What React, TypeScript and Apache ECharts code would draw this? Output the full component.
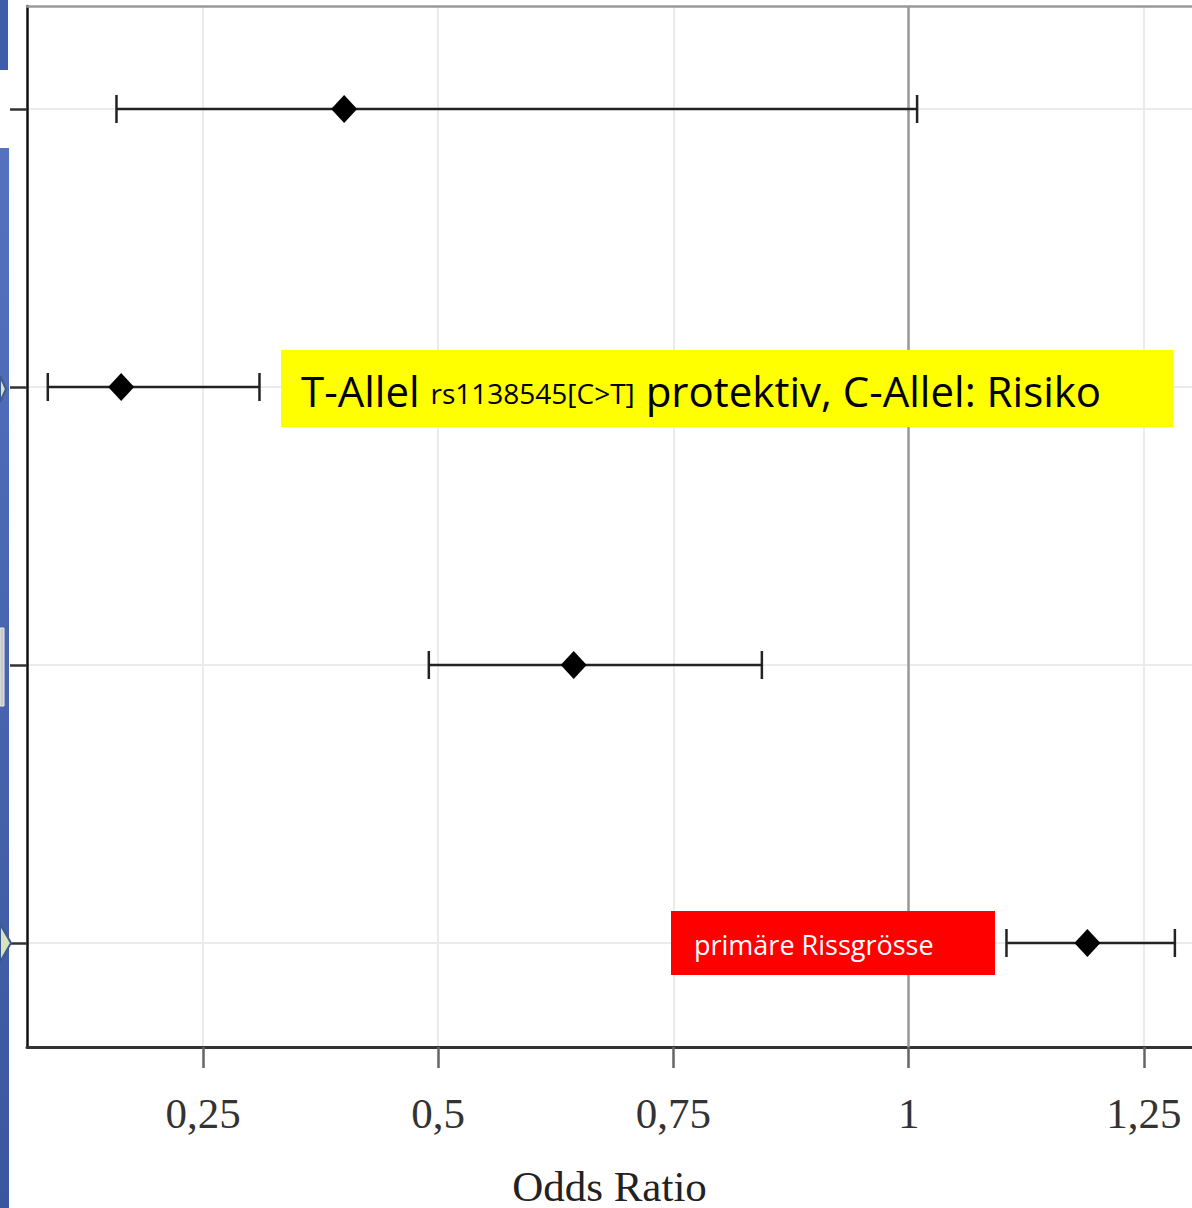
import React, { useEffect, useRef } from "react";
import * as echarts from "echarts";

// Row positions (top to bottom) – the row labels are hidden in the reference
const rowPositions = [1, 2, 3, 4];
const oddsRatio = [0.4, 0.163, 0.644, 1.19];
const ciLower = [0.158, 0.085, 0.49, 1.104];
const ciUpper = [1.009, 0.31, 0.844, 1.283];
const xTicks = [0.25, 0.5, 0.75, 1, 1.25];
const referenceLine = [1];
const xAxisName = "Odds Ratio";
const noteYellowMain1 = "T-Allel ";
const noteYellowSub = "rs1138545[C>T]";
const noteYellowMain2 = " protektiv, C-Allel: Risiko";
const noteRed = "primäre Rissgrösse";

const X_MIN = 0.0629;
const X_MAX = 1.3012;
const Y_MIN = 0.6295;
const Y_MAX = 4.374;

export default function App() {
  const ref = useRef<HTMLDivElement>(null);

  useEffect(() => {
    if (!ref.current) return;
    const chart = echarts.init(ref.current, null, { renderer: "svg" });

    const pointData = rowPositions.map((r, i) => [oddsRatio[i], r]);
    const barData = rowPositions.map((r, i) => [r, ciLower[i], ciUpper[i]]);

    const serif = "'Liberation Serif', 'DejaVu Serif', serif";
    const sans = "'Open Sans', 'Noto Sans', sans-serif";

    const option: any = {
      animation: false,
      backgroundColor: "#ffffff",
      grid: {
        left: 27,
        top: 6,
        right: 0,
        bottom: 161,
        containLabel: false,
        outerBoundsMode: "none",
      },
      xAxis: [
        {
          type: "value",
          min: X_MIN,
          max: X_MAX,
          position: "bottom",
          name: xAxisName,
          nameLocation: "middle",
          nameGap: 118,
          nameTextStyle: { fontFamily: serif, fontSize: 43, lineHeight: 42, color: "#222" },
          axisLine: { show: true, onZero: false, lineStyle: { color: "#333", width: 3 } },
          axisTick: {
            show: true,
            customValues: xTicks,
            length: 21,
            lineStyle: { color: "#666", width: 2.5 },
          },
          axisLabel: {
            customValues: xTicks,
            margin: 45,
            fontFamily: serif,
            fontSize: 43,
            color: "#333",
            formatter: (v: number) => String(v).replace(".", ","),
          },
          splitLine: { show: true, lineStyle: { color: "#ebebeb", width: 2 } },
        },
        {
          type: "value",
          min: X_MIN,
          max: X_MAX,
          position: "top",
          axisLine: { show: true, onZero: false, lineStyle: { color: "#999", width: 2.5 } },
          axisTick: { show: false },
          axisLabel: { show: false },
          splitLine: { show: false },
        },
      ],
      yAxis: {
        type: "value",
        inverse: true,
        min: Y_MIN,
        max: Y_MAX,
        axisLine: { show: true, onZero: false, lineStyle: { color: "#111", width: 2.5 } },
        axisTick: {
          show: true,
          customValues: rowPositions,
          length: 17,
          lineStyle: { color: "#333", width: 2.5 },
        },
        axisLabel: { show: false, customValues: rowPositions },
        splitLine: { show: true, lineStyle: { color: "#ebebeb", width: 2 } },
      },
      series: [
        {
          type: "custom",
          xAxisIndex: 0,
          z: 3,
          data: barData,
          encode: { x: [1, 2], y: 0 },
          renderItem: (params: any, api: any) => {
            const row = api.value(0);
            const lo = api.coord([api.value(1), row]);
            const hi = api.coord([api.value(2), row]);
            const h = 14;
            const style = { stroke: "#222", lineWidth: 2.5 };
            return {
              type: "group",
              children: [
                { type: "line", shape: { x1: lo[0], y1: lo[1], x2: hi[0], y2: hi[1] }, style },
                { type: "line", shape: { x1: lo[0], y1: lo[1] - h, x2: lo[0], y2: lo[1] + h }, style },
                { type: "line", shape: { x1: hi[0], y1: hi[1] - h, x2: hi[0], y2: hi[1] + h }, style },
              ],
            };
          },
        },
        {
          type: "scatter",
          xAxisIndex: 0,
          z: 4,
          symbol: "diamond",
          symbolSize: [26, 28],
          itemStyle: { color: "#000", opacity: 1 },
          data: pointData,
          markLine: {
            silent: true,
            symbol: "none",
            label: { show: false },
            z: 2,
            lineStyle: { color: "#9a9a9a", width: 2.5, type: "solid" },
            data: referenceLine.map((v) => ({ xAxis: v })),
          },
        },
      ],
      graphic: [
        // slide background remnants on the left
        { type: "rect", shape: { x: 0, y: 0, width: 8, height: 70 }, style: { fill: "#3d5ea8" }, z: 10 },
        {
          type: "rect",
          shape: { x: 0, y: 148, width: 9, height: 1060 },
          style: {
            fill: new echarts.graphic.LinearGradient(0, 0, 0, 1, [
              { offset: 0, color: "#5472c0" },
              { offset: 1, color: "#3b569c" },
            ]),
          },
          z: 10,
        },
        {
          type: "rect",
          shape: { x: 0, y: 628, width: 4, height: 78 },
          style: { fill: "#c9c9c9", stroke: "#e8e8e8", lineWidth: 1 },
          z: 11,
        },
        {
          type: "polygon",
          shape: { points: [[0, 376], [6, 389], [0, 402]] },
          style: { fill: "#d9e3bd", stroke: "#3d5a94", lineWidth: 2 },
          z: 11,
        },
        {
          type: "polygon",
          shape: { points: [[0, 924], [11, 943], [0, 962]] },
          style: { fill: "#d9e3bd", stroke: "#3d5a94", lineWidth: 2 },
          z: 11,
        },
        // yellow annotation
        { type: "rect", shape: { x: 281, y: 350, width: 892, height: 77 }, style: { fill: "#ffff00" }, z: 20 },
        {
          type: "text",
          x: 301,
          y: 390,
          z: 21,
          style: {
            text: `{a|${noteYellowMain1}}{b|${noteYellowSub}}{a|${noteYellowMain2}}`,
            verticalAlign: "middle",
            rich: {
              a: { fontFamily: sans, fontSize: 42, fill: "#000", verticalAlign: "bottom" },
              b: { fontFamily: sans, fontSize: 28, fill: "#000", verticalAlign: "bottom", padding: [0, 0, 4, 0] },
            },
          },
        },
        // red annotation
        { type: "rect", shape: { x: 671, y: 911, width: 324, height: 64 }, style: { fill: "#ff0000" }, z: 20 },
        {
          type: "text",
          x: 694,
          y: 944,
          z: 21,
          style: {
            text: noteRed,
            fontFamily: sans,
            fontSize: 27,
            fill: "#ffffff",
            verticalAlign: "middle",
          },
        },
      ],
    };

    chart.setOption(option);
    return () => chart.dispose();
  }, []);

  return (
    <div
      ref={ref}
      style={{ position: "fixed", left: 0, top: 0, width: 1192, height: 1208, background: "#fff" }}
    />
  );
}
